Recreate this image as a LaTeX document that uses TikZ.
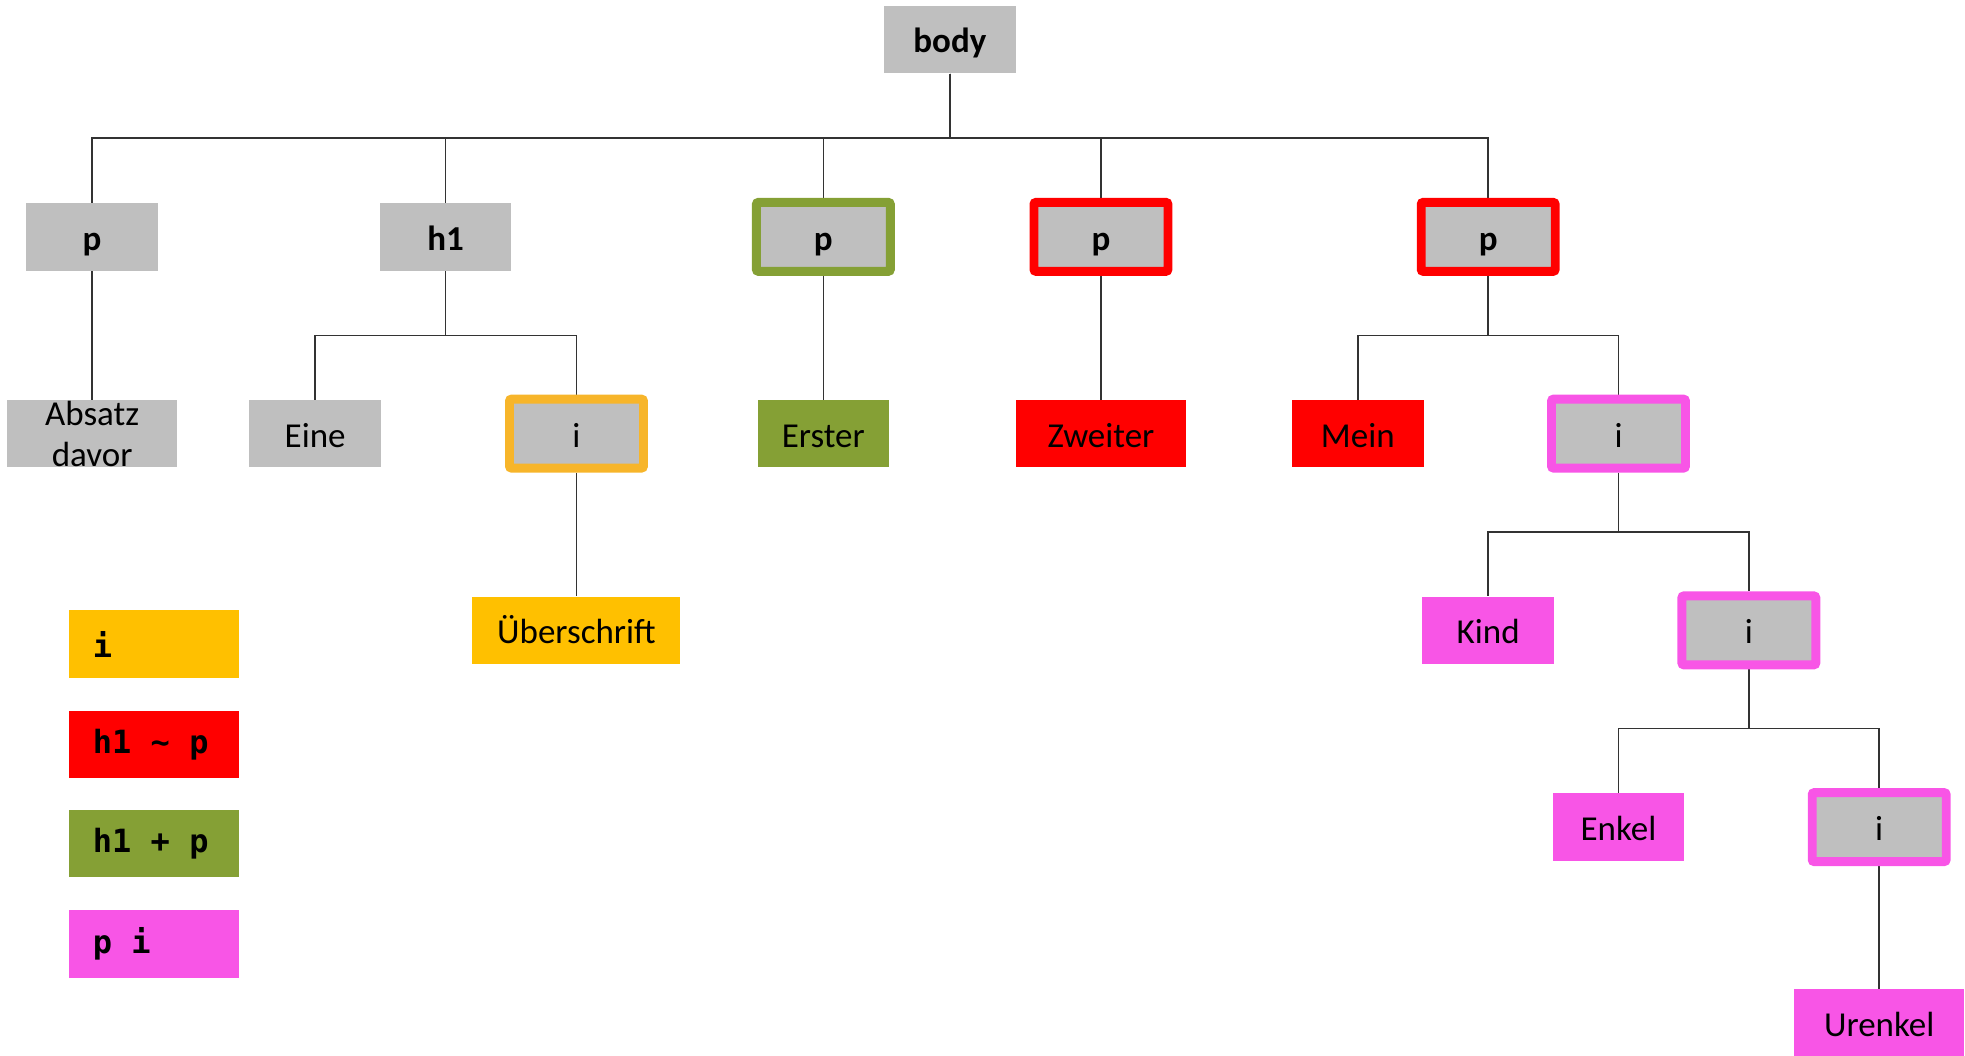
\documentclass[tikz,border=0pt]{standalone}
\usepackage{fontspec}
\setmainfont{Carlito}
\newfontfamily\legmono{DejaVu Sans Mono}
\usetikzlibrary{calc,backgrounds}
\definecolor{boxgray}{HTML}{BFBFBF}
\definecolor{legorange}{HTML}{FFC000}
\definecolor{ringorange}{HTML}{F7B52A}
\definecolor{legred}{HTML}{FF0000}
\definecolor{leggreen}{HTML}{85A035}
\definecolor{legpink}{HTML}{F855E6}
\definecolor{linegray}{HTML}{333333}
\newcommand\legfont{\legmono\bfseries\fontsize{32}{38}\selectfont}
\newcommand\msp{\hspace*{0.602em}}
\begin{document}
\begin{tikzpicture}[x=1.2532pt,y=-1.2532pt,
  basebox/.style={inner sep=0pt, font=\fontsize{35}{41}\selectfont, text=black, align=center, text height=27pt, text depth=0pt},
  gbox/.style={basebox, fill=#1, minimum width=131.6pt, minimum height=67.7pt},
  wbox/.style={basebox, fill=#1, minimum width=170.4pt, minimum height=67.7pt},
  rbox/.style={basebox, fill=boxgray, draw=#1, line width=8.8pt, rounded corners=2pt, minimum width=134pt, minimum height=69pt},
  legbox/.style={fill=#1, minimum width=170.4pt, minimum height=67.7pt, inner ysep=0pt, inner xsep=24pt, text width=122.4pt, align=left, text=black, font=\legfont},
  elbow/.style={to path={(\tikztostart.south) -- ($(\tikztostart.center)+(0,78.5)$) -| (\tikztotarget.north)}},
  conn/.style={draw=linegray, line width=1.4pt}
]
\useasboundingbox (0,0) rectangle (1568,842);

% level 0
\node[gbox=boxgray] (body) at (758,31.5) {\textbf{body}};
% level 1
\node[gbox=boxgray] (p1) at (73.5,189) {\textbf{p}};
\node[gbox=boxgray] (h1) at (355.5,189) {\textbf{h1}};
\node[rbox=leggreen] (p2) at (657,189) {\textbf{p}};
\node[rbox=legred] (p3) at (878.5,189) {\textbf{p}};
\node[rbox=legred] (p4) at (1187.5,189) {\textbf{p}};
% level 2
\node[wbox=boxgray, text height=, text depth=] (absatz) at (73.5,346) {Absatz\\davor};
\node[gbox=boxgray] (eine) at (251.5,346) {Eine};
\node[rbox=ringorange] (i1) at (460,346) {i};
\node[gbox=leggreen] (erster) at (657,346) {Erster};
\node[wbox=legred] (zweiter) at (878.5,346) {Zweiter};
\node[gbox=legred] (mein) at (1083.5,346) {Mein};
\node[rbox=legpink] (i2) at (1291.5,346) {i};
% level 3
\node[basebox, fill=legorange, minimum width=208pt, minimum height=67.7pt] (ueber) at (460,503) {Überschrift};
\node[gbox=legpink] (kind) at (1187.5,503) {Kind};
\node[rbox=legpink] (i3) at (1395.5,503) {i};
% level 4
\node[gbox=legpink] (enkel) at (1291.5,660) {Enkel};
\node[rbox=legpink] (i4) at (1499.5,660) {i};
% level 5
\node[wbox=legpink] (urenkel) at (1499.5,816.5) {Urenkel};

% legend
\node[legbox=legorange] (lg1) at (123,514) {i};
\node[legbox=legred] (lg2) at (123,594) {h1\msp\textasciitilde\msp p};
\node[legbox=leggreen] (lg3) at (123,673) {h1\msp+\msp p};
\node[legbox=legpink] (lg4) at (123,753) {p\msp i};

\begin{pgfonlayer}{background}
  \foreach \c in {p1,h1,p2,p3,p4} \draw[conn] (body) to[elbow] (\c);
  \draw[conn] (p1) to[elbow] (absatz);
  \draw[conn] (h1) to[elbow] (eine);
  \draw[conn] (h1) to[elbow] (i1);
  \draw[conn] (p2) to[elbow] (erster);
  \draw[conn] (p3) to[elbow] (zweiter);
  \draw[conn] (p4) to[elbow] (mein);
  \draw[conn] (p4) to[elbow] (i2);
  \draw[conn] (i1) to[elbow] (ueber);
  \draw[conn] (i2) to[elbow] (kind);
  \draw[conn] (i2) to[elbow] (i3);
  \draw[conn] (i3) to[elbow] (enkel);
  \draw[conn] (i3) to[elbow] (i4);
  \draw[conn] (i4) to[elbow] (urenkel);
\end{pgfonlayer}
\end{tikzpicture}
\end{document}
